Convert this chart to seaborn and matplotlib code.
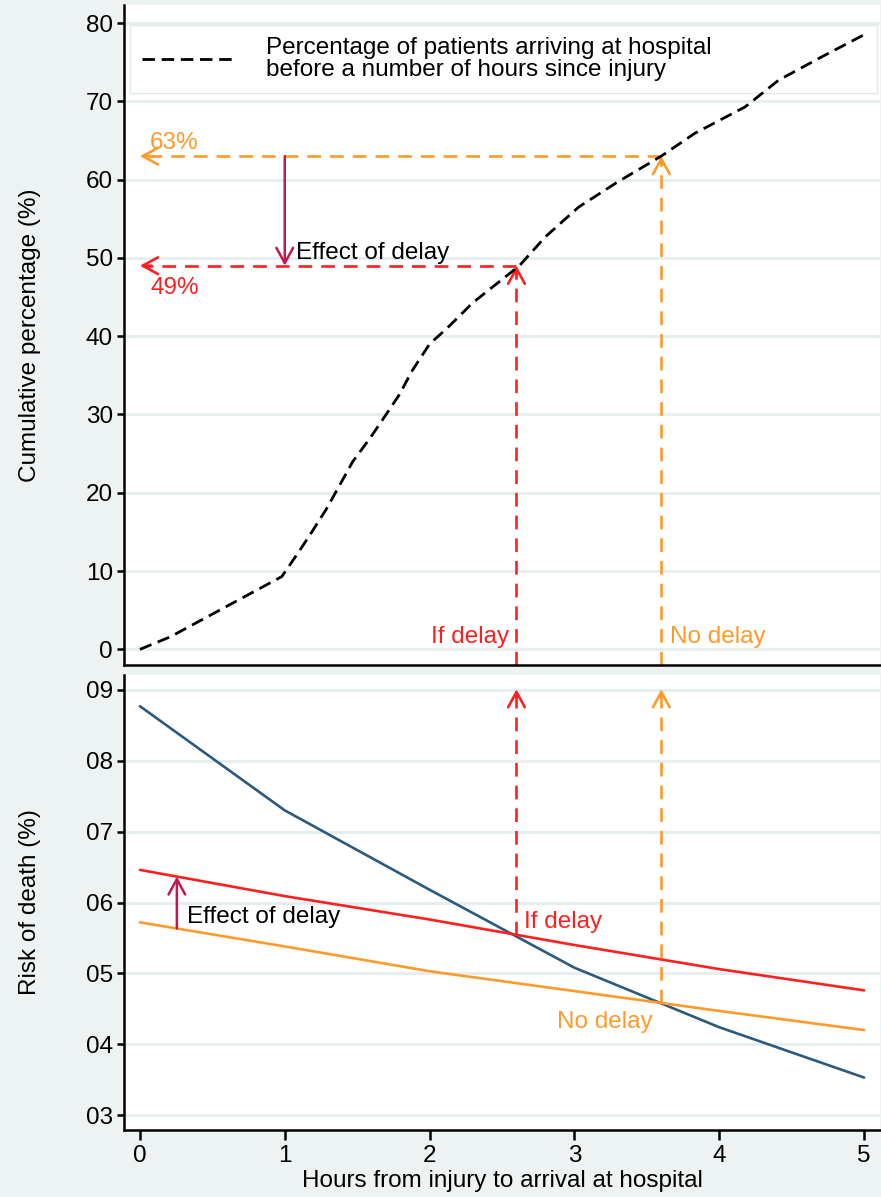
import numpy as np
import pandas as pd
import matplotlib
matplotlib.use("Agg")
import matplotlib.pyplot as plt
import seaborn as sns

# Cumulative share of patients arriving at hospital by hours since injury
cum_hours = [0, 0.21, 0.41, 0.60, 0.78, 0.98, 1.08, 1.17, 1.29, 1.38, 1.47, 1.59,
             1.70, 1.79, 1.88, 2.00, 2.12, 2.30, 2.62, 2.80, 3.03, 3.29, 3.60,
             3.83, 4.18, 4.41, 4.71, 5.00]
cum_pct = [0, 1.6, 3.6, 5.5, 7.3, 9.3, 12.0, 14.5, 18.0, 21.0, 24.0, 27.0,
           30.0, 32.5, 35.6, 39.0, 41.0, 44.3, 49.0, 52.7, 56.5, 59.6, 63.0,
           65.9, 69.3, 72.7, 75.7, 78.5]

# Risk of death by hours from injury to arrival
risk_hours = [0, 1, 2, 3, 4, 5]
risk_overall = [0.0877, 0.0730, 0.0618, 0.0508, 0.0424, 0.0353]
risk_if_delay = [0.0646, 0.0609, 0.0576, 0.0540, 0.0506, 0.0476]
risk_no_delay = [0.0572, 0.0538, 0.0503, 0.0475, 0.0447, 0.0420]

# Reference points for the delay / no-delay scenario
delay_hours, no_delay_hours = 2.6, 3.6
pct_delay, pct_no_delay = 49, 63
effect_hours = 0.255

pct_ticks = [0, 10, 20, 30, 40, 50, 60, 70, 80]
risk_ticks = [0.03, 0.04, 0.05, 0.06, 0.07, 0.08, 0.09]
risk_tick_labels = ["03", "04", "05", "06", "07", "08", "09"]
hour_ticks = [0, 1, 2, 3, 4, 5]

RED = "#ff1f1f"
ORANGE = "#ff9a2a"
BLUE = "#2b5a7e"
CRIMSON = "#c4164f"
BG = "#edf3f3"
GRID = "#e4eeee"
FS = 17.5

sns.set_style("white")
plt.rcParams["font.family"] = ["Liberation Sans", "DejaVu Sans"]
plt.rcParams["axes.unicode_minus"] = False
plt.rcParams["text.color"] = "black"
plt.rcParams["axes.labelcolor"] = "black"
plt.rcParams["xtick.color"] = "black"
plt.rcParams["ytick.color"] = "black"

fig = plt.figure(figsize=(8.81, 11.97), dpi=100, facecolor=BG)
ax1 = fig.add_axes([124 / 881, 1 - 665 / 1197, 756 / 881, 660 / 1197])
ax2 = fig.add_axes([124 / 881, 1 - 1130 / 1197, 756 / 881, 455 / 1197])

for ax in (ax1, ax2):
    ax.set_facecolor("white")
    for side in ("top", "right"):
        ax.spines[side].set_visible(False)
    for side in ("left", "bottom"):
        ax.spines[side].set_linewidth(1.8)
        ax.spines[side].set_color("black")
    ax.set_xlim(-0.11, 5.11)
    ax.grid(axis="y", color=GRID, lw=2)
    ax.set_axisbelow(True)
    ax.tick_params(axis="y", direction="out", length=5, width=1.8,
                   labelsize=FS, pad=3, left=True)

# ---------- top panel: cumulative percentage ----------
cum_df = pd.DataFrame({"hours": cum_hours, "pct": cum_pct})
sns.lineplot(data=cum_df, x="hours", y="pct", ax=ax1, color="black", lw=2.0,
             estimator=None, linestyle=(0, (4.5, 2.4)), zorder=4,
             label="Percentage of patients arriving at hospital\nbefore a number of hours since injury")
ax1.set_ylim(-2.0, 82.3)
ax1.set_yticks(pct_ticks)
ax1.set_xticks([])
ax1.set_xlabel("")
ax1.set_ylabel("Cumulative percentage (%)", fontsize=FS)
ax1.yaxis.set_label_coords(-0.124, 0.5)
ax1.yaxis.label.set_va("center")

dash = (0, (5.2, 3.4))
guide_lw = 1.9


def head(ax, tip, tail, color):
    ax.annotate("", xy=tip, xytext=tail,
                arrowprops=dict(arrowstyle="->,head_length=0.55,head_width=0.3",
                                color=color, lw=guide_lw, shrinkA=0, shrinkB=0,
                                mutation_scale=20))


# horizontal guides to the y axis
ax1.plot([no_delay_hours, 0.02], [pct_no_delay, pct_no_delay], color=ORANGE, lw=guide_lw, linestyle=dash)
ax1.plot([delay_hours, 0.02], [pct_delay, pct_delay], color=RED, lw=guide_lw, linestyle=dash)
head(ax1, (0, pct_no_delay), (0.08, pct_no_delay), ORANGE)
head(ax1, (0, pct_delay), (0.08, pct_delay), RED)

# vertical guides from the bottom of the panel up to the curve
ax1.plot([delay_hours, delay_hours], [-2.0, pct_delay - 0.5], color=RED, lw=guide_lw, linestyle=dash)
ax1.plot([no_delay_hours, no_delay_hours], [-2.0, pct_no_delay - 0.5], color=ORANGE, lw=guide_lw, linestyle=dash)
head(ax1, (delay_hours, pct_delay), (delay_hours, pct_delay - 1.2), RED)
head(ax1, (no_delay_hours, pct_no_delay), (no_delay_hours, pct_no_delay - 1.2), ORANGE)

# effect of delay on cumulative share
ax1.annotate("", xy=(1.0, pct_delay), xytext=(1.0, pct_no_delay),
             arrowprops=dict(arrowstyle="->,head_length=0.55,head_width=0.3",
                             color=CRIMSON, lw=1.8, shrinkA=0, shrinkB=0,
                             mutation_scale=20))
ax1.text(1.075, pct_delay + 0.8, "Effect of delay", fontsize=FS, color="black",
         ha="left", va="baseline")
ax1.text(0.07, pct_no_delay + 0.9, f"{pct_no_delay}%", fontsize=FS, color=ORANGE,
         ha="left", va="baseline")
ax1.text(0.07, pct_delay - 3.6, f"{pct_delay}%", fontsize=FS, color=RED,
         ha="left", va="baseline")
ax1.text(delay_hours - 0.05, 0.8, "If delay", fontsize=FS, color=RED,
         ha="right", va="baseline")
ax1.text(no_delay_hours + 0.06, 0.8, "No delay", fontsize=FS, color=ORANGE,
         ha="left", va="baseline")

leg = ax1.legend(loc="upper left", bbox_to_anchor=(0.008, 0.870, 0.988, 0.1),
                 mode="expand", borderaxespad=0, fontsize=FS, frameon=True,
                 handlelength=3.8, handletextpad=1.3, borderpad=0.5,
                 fancybox=False, framealpha=1.0)
leg.get_frame().set_edgecolor("#e3eaea")
leg.get_frame().set_linewidth(1.0)
leg.set_zorder(1.5)
for t in leg.get_texts():
    t.set_linespacing(1.02)

# ---------- bottom panel: risk of death ----------
risk_df = pd.DataFrame({
    "hours": risk_hours * 3,
    "risk": risk_overall + risk_if_delay + risk_no_delay,
    "series": ["overall"] * 6 + ["delay"] * 6 + ["nodelay"] * 6,
})
sns.lineplot(data=risk_df, x="hours", y="risk", hue="series", ax=ax2,
             palette={"overall": BLUE, "delay": RED, "nodelay": ORANGE},
             lw=1.9, estimator=None, legend=False)
ax2.set_ylim(0.0279, 0.0921)
ax2.set_yticks(risk_ticks)
ax2.set_yticklabels(risk_tick_labels)
ax2.set_xticks(hour_ticks)
ax2.set_xticklabels([str(h) for h in hour_ticks])
ax2.tick_params(axis="x", direction="out", length=7, width=1.8,
                labelsize=FS, pad=4, bottom=True)
ax2.set_ylabel("Risk of death (%)", fontsize=FS)
ax2.yaxis.set_label_coords(-0.124, 0.5)
ax2.yaxis.label.set_va("center")
ax2.set_xlabel("Hours from injury to arrival at hospital", fontsize=FS)
ax2.xaxis.set_label_coords(0.5, -0.112)
ax2.xaxis.label.set_va("center")

risk_at_delay = float(np.interp(delay_hours, risk_hours, risk_if_delay))
risk_at_no_delay = float(np.interp(no_delay_hours, risk_hours, risk_no_delay))
top_tip = 0.0901
ax2.plot([delay_hours, delay_hours], [risk_at_delay, top_tip - 0.0006], color=RED, lw=guide_lw, linestyle=dash)
ax2.plot([no_delay_hours, no_delay_hours], [risk_at_no_delay, top_tip - 0.0006], color=ORANGE, lw=guide_lw, linestyle=dash)
head(ax2, (delay_hours, top_tip), (delay_hours, top_tip - 0.0012), RED)
head(ax2, (no_delay_hours, top_tip), (no_delay_hours, top_tip - 0.0012), ORANGE)

lo = float(np.interp(effect_hours, risk_hours, risk_no_delay))
hi = float(np.interp(effect_hours, risk_hours, risk_if_delay))
ax2.annotate("", xy=(effect_hours, hi), xytext=(effect_hours, lo),
             arrowprops=dict(arrowstyle="->,head_length=0.55,head_width=0.3",
                             color=CRIMSON, lw=1.8, shrinkA=0, shrinkB=0,
                             mutation_scale=20))
ax2.text(0.325, 0.0579, "Effect of delay", fontsize=FS, color="black",
         ha="left", va="center")
ax2.text(2.655, 0.0573, "If delay", fontsize=FS, color=RED, ha="left", va="center")
ax2.text(2.88, 0.0432, "No delay", fontsize=FS, color=ORANGE, ha="left", va="center")

fig.savefig("out.png", dpi=100, facecolor=BG)
